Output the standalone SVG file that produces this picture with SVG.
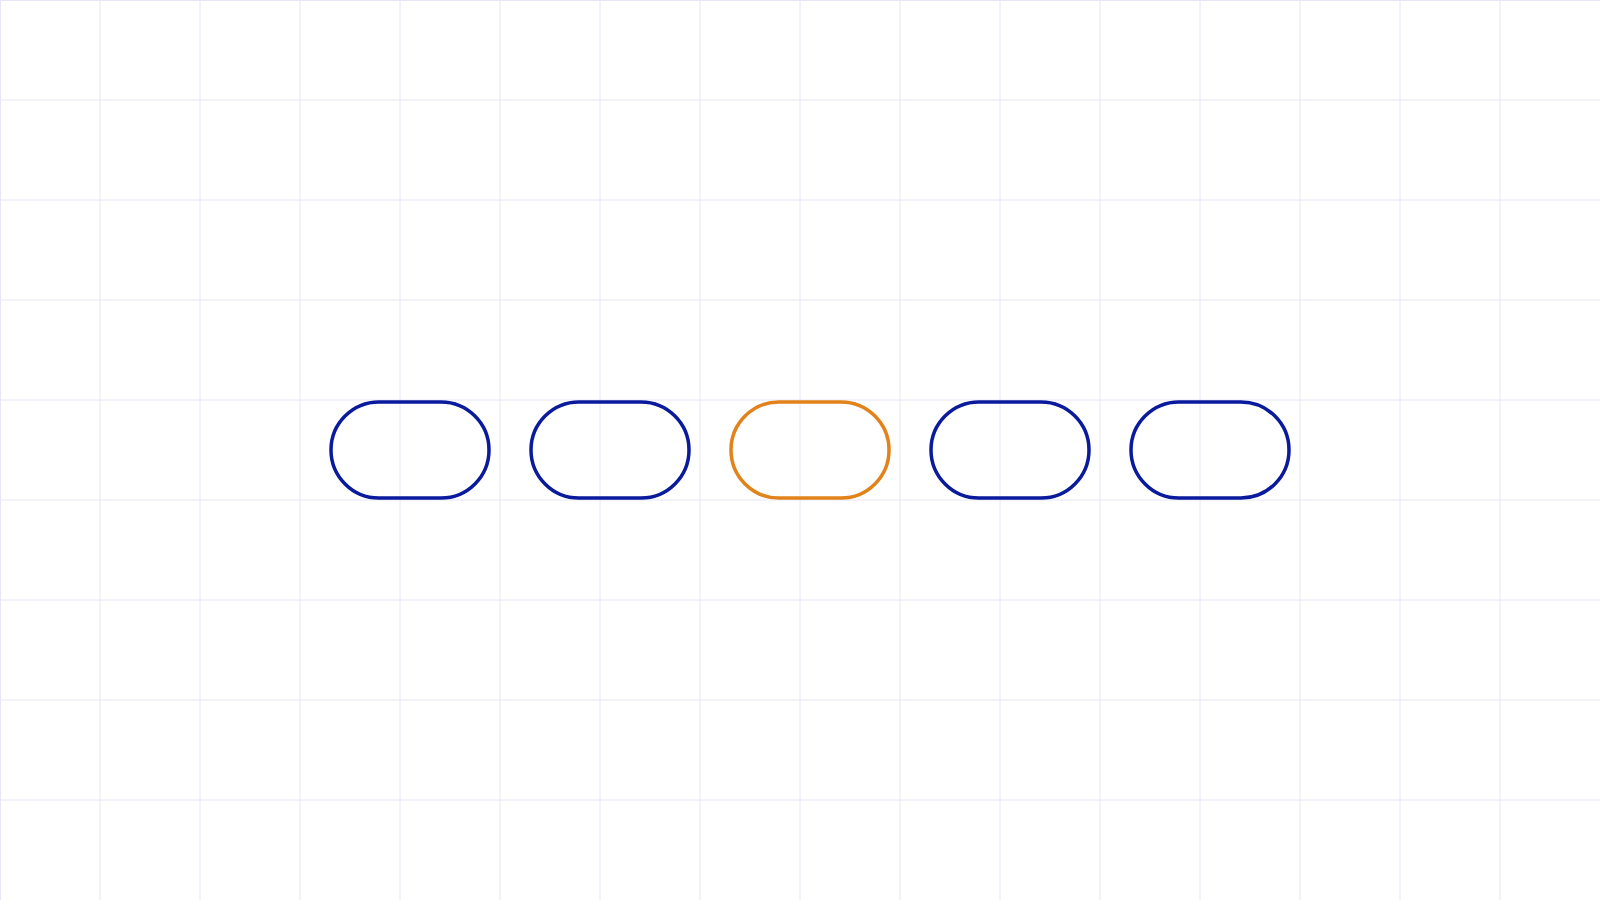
<svg xmlns="http://www.w3.org/2000/svg" width="1600" height="900" viewBox="0 0 1600 900">
  <defs>
    <style>
      .grid line { stroke: #e6e6f7; stroke-width: 1; }
      .pill { fill: none; stroke-width: 3.5; }
      .blue { stroke: #0a1a9c; }
      .orange { stroke: #e2821a; }
    </style>
  </defs>
  <rect x="0" y="0" width="1600" height="900" fill="#ffffff"/>
  <g class="grid">
    <line x1="0.5" y1="0" x2="0.5" y2="900"/>
    <line x1="100" y1="0" x2="100" y2="900"/>
    <line x1="200" y1="0" x2="200" y2="900"/>
    <line x1="300" y1="0" x2="300" y2="900"/>
    <line x1="400" y1="0" x2="400" y2="900"/>
    <line x1="500" y1="0" x2="500" y2="900"/>
    <line x1="600" y1="0" x2="600" y2="900"/>
    <line x1="700" y1="0" x2="700" y2="900"/>
    <line x1="800" y1="0" x2="800" y2="900"/>
    <line x1="900" y1="0" x2="900" y2="900"/>
    <line x1="1000" y1="0" x2="1000" y2="900"/>
    <line x1="1100" y1="0" x2="1100" y2="900"/>
    <line x1="1200" y1="0" x2="1200" y2="900"/>
    <line x1="1300" y1="0" x2="1300" y2="900"/>
    <line x1="1400" y1="0" x2="1400" y2="900"/>
    <line x1="1500" y1="0" x2="1500" y2="900"/>
    <line x1="0" y1="0.5" x2="1600" y2="0.5"/>
    <line x1="0" y1="100" x2="1600" y2="100"/>
    <line x1="0" y1="200" x2="1600" y2="200"/>
    <line x1="0" y1="300" x2="1600" y2="300"/>
    <line x1="0" y1="400" x2="1600" y2="400"/>
    <line x1="0" y1="500" x2="1600" y2="500"/>
    <line x1="0" y1="600" x2="1600" y2="600"/>
    <line x1="0" y1="700" x2="1600" y2="700"/>
    <line x1="0" y1="800" x2="1600" y2="800"/>
  </g>
  <g id="connectors"></g>
  <g id="node1"><rect class="pill blue" x="331" y="402" width="158" height="96" rx="48" ry="48"/></g>
  <g id="node2"><rect class="pill blue" x="531" y="402" width="158" height="96" rx="48" ry="48"/></g>
  <g id="node3"><rect class="pill orange" x="731" y="402" width="158" height="96" rx="48" ry="48"/></g>
  <g id="node4"><rect class="pill blue" x="931" y="402" width="158" height="96" rx="48" ry="48"/></g>
  <g id="node5"><rect class="pill blue" x="1131" y="402" width="158" height="96" rx="48" ry="48"/></g>
</svg>
